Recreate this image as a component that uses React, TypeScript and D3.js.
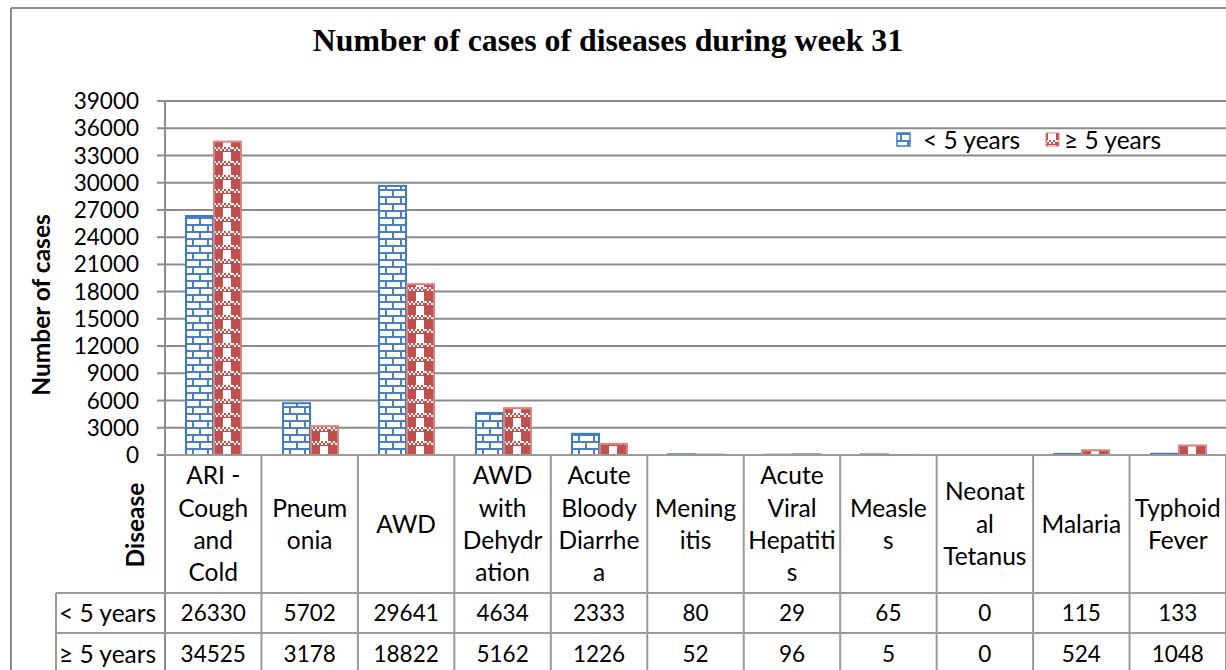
import React from "react";
import * as d3 from "d3";

const categories = [
  "ARI - Cough and Cold",
  "Pneumonia",
  "AWD",
  "AWD with Dehydration",
  "Acute Bloody Diarrhea",
  "Meningitis",
  "Acute Viral Hepatitis",
  "Measles",
  "Neonatal Tetanus",
  "Malaria",
  "Typhoid Fever",
];
const categoryLines = [
  ["ARI -", "Cough", "and", "Cold"],
  ["Pneum", "onia"],
  ["AWD"],
  ["AWD", "with", "Dehydr", "ation"],
  ["Acute", "Bloody", "Diarrhe", "a"],
  ["Mening", "itis"],
  ["Acute", "Viral", "Hepatiti", "s"],
  ["Measle", "s"],
  ["Neonat", "al", "Tetanus"],
  ["Malaria"],
  ["Typhoid", "Fever"],
];
const seriesNames = ["< 5 years", "≥ 5 years"];
const under5 = [26330, 5702, 29641, 4634, 2333, 80, 29, 65, 0, 115, 133];
const over5 = [34525, 3178, 18822, 5162, 1226, 52, 96, 5, 0, 524, 1048];
const yTicks = d3.range(0, 39001, 3000);

const FONT = "Lato, 'Open Sans', sans-serif";
const BLUE = "#3d7cc4";
const BRICK = "#4a7fc0";
const RED = "#c0504d";
const RED_EDGE = "#d98481";
const GRID = "#8c8c8c";
const TABLE = "#9a9a9a";
const TXT = 24.5;
const NUM = 22.5;

function BrickPattern({ id, x0 }: { id: string; x0: number }) {
  const w = 15;
  const h = 14;
  return (
    <pattern id={id} x={x0} y={455} width={w} height={h} patternUnits="userSpaceOnUse">
      <rect width={w} height={h} fill="#fff" />
      <rect x={0} y={0} width={w} height={2} fill={BRICK} />
      <rect x={0} y={7} width={w} height={2} fill={BRICK} />
      <rect x={13} y={0} width={2} height={7} fill={BRICK} />
      <rect x={6} y={7} width={2} height={7} fill={BRICK} />
    </pattern>
  );
}

function CheckPattern({ id, x0 }: { id: string; x0: number }) {
  const w = 18;
  const h = 14;
  const s = 2;
  const cells: JSX.Element[] = [];
  for (let r = 0; r < 2; r++) {
    for (let c = 0; c < 9; c++) {
      if ((r + c) % 2 === 0) {
        cells.push(<rect key={`${r}-${c}`} x={c * s} y={r * s} width={s} height={s} fill="#fff" />);
      }
    }
  }
  return (
    <pattern id={id} x={x0} y={455} width={w} height={h} patternUnits="userSpaceOnUse">
      <rect width={w} height={h} fill={RED} />
      {cells}
      <rect x={9} y={5} width={8} height={9} fill="#fff" />
    </pattern>
  );
}

export default function App() {
  const W = 1226;
  const H = 670;
  const left = 165;
  const right = 1226;
  const y0 = 455;
  const yTop = 101;
  const headerBottom = 593;
  const row1Bottom = 633;
  const labelLeft = 56;

  const y = d3.scaleLinear().domain([0, 39000]).range([y0, yTop]);
  const x = d3.scaleBand<string>().domain(categories).range([left, right]).padding(0);
  const xs = d3
    .scaleBand<string>()
    .domain(seriesNames)
    .range([0, x.bandwidth()])
    .paddingInner(0)
    .paddingOuter(0.72);
  const series = [under5, over5];
  const strokes = [BLUE, RED_EDGE];
  const lineH = 32.4;
  const headerMid = (y0 + headerBottom) / 2;

  const bars = categories.flatMap((c, i) =>
    series.map((s, k) => {
      const bx = Math.round(x(c)! + xs(seriesNames[k])!) + 1;
      return { key: `${i}-${k}`, k, bx, v: s[i] };
    })
  );

  return (
    <svg
      width={W}
      height={H}
      style={{ position: "fixed", left: 0, top: 0, background: "#fff" }}
      fontFamily={FONT}
    >
      <defs>
        {bars.map((b) =>
          b.k === 0 ? (
            <BrickPattern key={b.key} id={`p${b.key}`} x0={b.bx} />
          ) : (
            <CheckPattern key={b.key} id={`p${b.key}`} x0={b.bx} />
          )
        )}
        <BrickPattern id="legBrick" x0={897} />
        <CheckPattern id="legCheck" x0={1042} />
      </defs>

      {/* outer frame */}
      <line x1={11} y1={8} x2={W} y2={8} stroke={GRID} strokeWidth={2} />
      <line x1={11} y1={8} x2={11} y2={H} stroke={GRID} strokeWidth={2} />

      {/* title */}
      <text
        x={608}
        y={51}
        textAnchor="middle"
        fontFamily="'Liberation Serif', 'Times New Roman', serif"
        fontWeight="bold"
        fontSize={31.8}
        fill="#000"
      >
        Number of cases of diseases during week 31
      </text>

      {/* gridlines */}
      {yTicks.map((t) => (
        <g key={t}>
          {t > 0 && (
            <line x1={left} x2={right} y1={y(t)} y2={y(t)} stroke={GRID} strokeWidth={2} />
          )}
          <line x1={157} x2={left} y1={y(t)} y2={y(t)} stroke={GRID} strokeWidth={2} />
          <text x={139} y={y(t)} dy="0.36em" textAnchor="end" fontSize={NUM} fill="#000">
            {t}
          </text>
        </g>
      ))}
      <line x1={left} x2={left} y1={yTop} y2={H} stroke={GRID} strokeWidth={2} />

      {/* bars */}
      {bars.map((b) => {
        const top = y(b.v);
        const h = y0 - top;
        if (h <= 0) return null;
        return (
          <rect
            key={b.key}
            x={b.bx}
            y={top}
            width={Math.round(xs.bandwidth()) - 1}
            height={h}
            fill={`url(#p${b.key})`}
            stroke={strokes[b.k]}
            strokeWidth={2}
          />
        );
      })}

      {/* y axis title */}
      <text
        transform={`translate(50,${305}) rotate(-90)`}
        textAnchor="middle"
        fontWeight="bold"
        fontSize={TXT}
        fill="#000"
      >
        Number of cases
      </text>

      {/* legend */}
      <g transform="translate(897,133)">
        <rect x={0} y={0} width={13} height={13} fill="url(#legBrick)" stroke={BLUE} strokeWidth={1.5} />
        <text x={26} y={7} dy="0.36em" fontSize={TXT} fill="#000">
          {seriesNames[0]}
        </text>
        <rect x={149} y={0} width={13} height={13} fill="url(#legCheck)" stroke={RED_EDGE} strokeWidth={1} />
        <text x={167} y={7} dy="0.36em" fontSize={TXT} fill="#000">
          {seriesNames[1]}
        </text>
      </g>

      {/* data table */}
      <line x1={left} x2={right} y1={y0} y2={y0} stroke={TABLE} strokeWidth={2} />
      <line x1={labelLeft} x2={right} y1={headerBottom} y2={headerBottom} stroke={TABLE} strokeWidth={2} />
      <line x1={labelLeft} x2={right} y1={row1Bottom} y2={row1Bottom} stroke={TABLE} strokeWidth={2} />
      <line x1={labelLeft} x2={labelLeft} y1={headerBottom} y2={H} stroke={TABLE} strokeWidth={2} />
      {categories.map((c) => (
        <line
          key={c}
          x1={x(c)! + x.bandwidth()}
          x2={x(c)! + x.bandwidth()}
          y1={y0}
          y2={H}
          stroke={TABLE}
          strokeWidth={2}
        />
      ))}
      <text
        transform={`translate(144,${525}) rotate(-90)`}
        textAnchor="middle"
        fontWeight="bold"
        fontSize={TXT}
        fill="#000"
      >
        Disease
      </text>
      {categories.map((c, i) => {
        const lines = categoryLines[i];
        const startY = headerMid - ((lines.length - 1) * lineH) / 2;
        const cx = x(c)! + x.bandwidth() / 2;
        return (
          <text key={c} x={cx} textAnchor="middle" fontSize={TXT} fill="#000">
            {lines.map((ln, j) => (
              <tspan key={j} x={cx} y={startY + j * lineH} dy="0.36em">
                {ln}
              </tspan>
            ))}
          </text>
        );
      })}
      {series.map((s, k) => {
        const rowMid = k === 0 ? (headerBottom + row1Bottom) / 2 : row1Bottom + 21;
        return (
          <g key={k}>
            <text x={59} y={rowMid} dy="0.36em" fontSize={TXT} fill="#000">
              {seriesNames[k]}
            </text>
            {categories.map((c, i) => (
              <text
                key={c}
                x={x(c)! + x.bandwidth() / 2}
                y={rowMid}
                dy="0.36em"
                textAnchor="middle"
                fontSize={NUM}
                fill="#000"
              >
                {s[i]}
              </text>
            ))}
          </g>
        );
      })}
    </svg>
  );
}
